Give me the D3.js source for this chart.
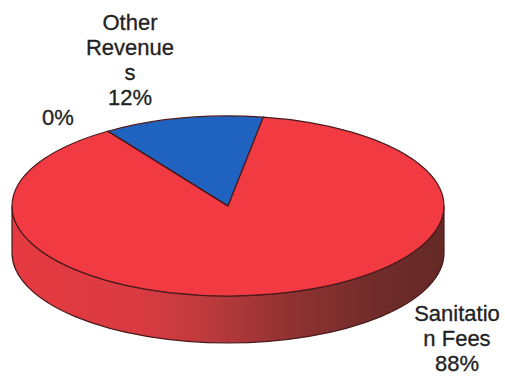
<!DOCTYPE html>
<html>
<head>
<meta charset="utf-8">
<script src="https://cdn.jsdelivr.net/npm/d3@7"></script>
<style>
  html, body { margin: 0; padding: 0; background: #fff; }
  svg { display: block; }
  text { font-family: "Liberation Sans", Arial, sans-serif; font-size: 22px; fill: #222; stroke: #222; stroke-width: 0.3; text-anchor: middle; }
</style>
</head>
<body>
<svg></svg>
<script>
let categories = ["Other Revenues", "Sanitation Fees", "Empty"];
let values = [12, 88, 0];
let sliceColors = ["#1f62c0", "#f23a43", "#f23a43"];
let labelLines = [
  ["Other", "Revenue", "s", "12%"],
  ["Sanitatio", "n Fees", "88%"],
  ["0%"]
];

let width = 505, height = 376;
let cx = 228, cy = 206, rx = 216, ry = 90, depth = 47;
let startAngle = 9.4 * Math.PI / 180 - 2 * Math.PI * 0.12;
let outline = "#4a1a1c";

let svg = d3.select("svg")
  .attr("width", width)
  .attr("height", height);

let pie = d3.pie()
  .value(d => d)
  .sort(null)
  .startAngle(startAngle)
  .endAngle(startAngle + 2 * Math.PI);

let arc = d3.arc()
  .innerRadius(0)
  .outerRadius(rx);

// shading of the wall, light on the left and dark on the right
let grad = svg.append("defs")
  .append("linearGradient")
  .attr("id", "wall")
  .attr("gradientUnits", "userSpaceOnUse")
  .attr("x1", cx - rx)
  .attr("x2", cx + rx)
  .attr("y1", 0)
  .attr("y2", 0);

[[0, "#e63a41"], [0.3, "#d83b41"], [0.45, "#bd3a3d"], [0.65, "#8f3232"], [0.85, "#702c2a"], [1, "#642926"]]
  .forEach(s => grad.append("stop").attr("offset", s[0]).attr("stop-color", s[1]));

svg.append("path")
  .attr("d", `M${cx - rx},${cy} L${cx - rx},${cy + depth} A${rx},${ry} 0 0 0 ${cx + rx},${cy + depth} L${cx + rx},${cy} A${rx},${ry} 0 0 1 ${cx - rx},${cy} Z`)
  .attr("fill", "url(#wall)")
  .attr("stroke", outline)
  .attr("stroke-width", 1.2);

svg.append("g")
  .attr("transform", `translate(${cx},${cy}) scale(1,${ry / rx})`)
  .selectAll("path")
  .data(pie(values))
  .enter()
  .append("path")
  .attr("d", arc)
  .attr("fill", (d, i) => sliceColors[i])
  .attr("stroke", outline)
  .attr("stroke-width", 1.2)
  .attr("vector-effect", "non-scaling-stroke")
  .append("title")
  .text((d, i) => categories[i]);

let addLabel = (lines, x, y) => {
  svg.append("text")
    .attr("x", x)
    .attr("y", y)
    .selectAll("tspan")
    .data(lines)
    .enter()
    .append("tspan")
    .attr("x", x)
    .attr("dy", (d, i) => i ? 25 : 0)
    .text(d => d);
};

addLabel(labelLines[0], 130, 30);
addLabel(labelLines[1], 457, 321);
addLabel(labelLines[2], 58, 125);
</script>
</body>
</html>
